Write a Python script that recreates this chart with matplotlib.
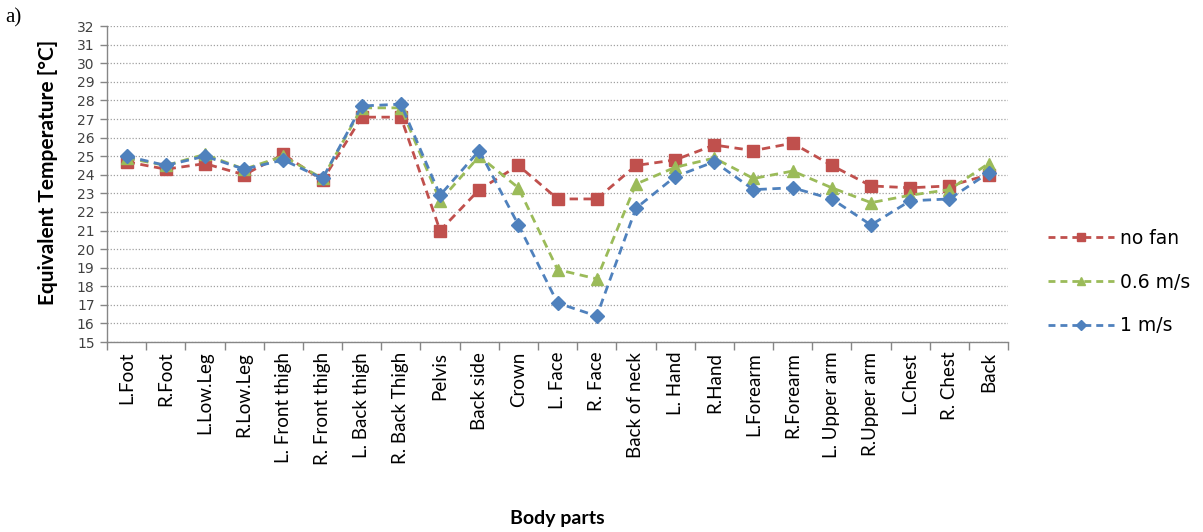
import numpy as np
import matplotlib.pyplot as plt
from matplotlib.lines import Line2D

# body parts along the x axis
parts = ['L.Foot', 'R.Foot', 'L.Low.Leg', 'R.Low.Leg', 'L. Front thigh',
         'R. Front thigh', 'L. Back thigh', 'R. Back Thigh', 'Pelvis',
         'Back side', 'Crown', 'L. Face', 'R. Face', 'Back of neck',
         'L. Hand', 'R.Hand', 'L.Forearm', 'R.Forearm', 'L. Upper arm',
         'R.Upper arm', 'L.Chest', 'R. Chest', 'Back']

# equivalent temperature [°C]
no_fan = [24.7, 24.3, 24.6, 24.0, 25.1, 23.7, 27.1, 27.1, 21.0, 23.2, 24.5,
          22.7, 22.7, 24.5, 24.8, 25.6, 25.3, 25.7, 24.5, 23.4, 23.3, 23.4, 24.0]
fan_06 = [24.9, 24.5, 25.1, 24.3, 25.0, 23.8, 27.6, 27.6, 22.6, 25.0, 23.3,
          18.9, 18.4, 23.5, 24.4, 24.9, 23.8, 24.2, 23.3, 22.5, 22.9, 23.2, 24.6]
fan_1 = [25.0, 24.5, 25.0, 24.3, 24.8, 23.8, 27.7, 27.8, 22.9, 25.3, 21.3,
         17.1, 16.4, 22.2, 23.9, 24.7, 23.2, 23.3, 22.7, 21.3, 22.6, 22.7, 24.1]

series = [
    ('no fan', no_fan, '#C0504D', 's', 8.5),
    ('0.6 m/s', fan_06, '#9BBB59', '^', 9),
    ('1 m/s', fan_1, '#4F81BD', 'D', 7),
]

plt.rcParams['font.family'] = ['Lato', 'DejaVu Sans']

fig = plt.figure(figsize=(12.03, 5.32), dpi=100)
ax = fig.add_axes([0.089, 0.357, 0.749, 0.594])

x = np.arange(len(parts))
handles = []
for name, vals, col, mk, ms in series:
    ax.plot(x, vals, linestyle=(0, (3, 2)), lw=2, color=col, marker=mk,
            markersize=ms)
    handles.append(Line2D([], [], linestyle=(0, (2.5, 1.8)), lw=2, color=col,
                          marker=mk, markersize=ms * 0.7, label=name))

ax.set_xlim(-0.5, len(parts) - 0.5)
ax.set_ylim(15, 32)
ax.set_yticks(np.arange(15, 33, 1))
ax.yaxis.grid(True, linestyle=(0, (1, 1.5)), color='#A0A0A0', lw=0.9)
ax.set_axisbelow(True)

# category ticks at boundaries, labels centred
ax.set_xticks(np.arange(-0.5, len(parts), 1))
ax.set_xticklabels([])
ax.set_xticks(x, minor=True)
ax.set_xticklabels(parts, minor=True, rotation=90, fontsize=13.5, color='black')
ax.tick_params(axis='x', which='minor', length=0, pad=7)
ax.tick_params(axis='x', which='major', length=6, color='#868686', width=1)
ax.tick_params(axis='y', length=5, color='#868686', width=1, pad=4)
for lab in ax.get_yticklabels():
    lab.set_family('DejaVu Sans')
    lab.set_fontsize(10)
    lab.set_color('#404040')

for s in ['top', 'right']:
    ax.spines[s].set_visible(False)
for s in ['left', 'bottom']:
    ax.spines[s].set_color('#868686')
    ax.spines[s].set_linewidth(1)

fig.text(0.040, 0.676, 'Equivalent Temperature [°C]', fontsize=15,
         fontweight='bold', rotation=90, ha='center', va='center')
fig.text(0.463, 0.026, 'Body parts', fontsize=14, fontweight='bold',
         ha='center', va='center')
fig.text(0.004, 0.966, 'a)', fontsize=15, family='Liberation Serif',
         va='center')

leg = ax.legend(handles=handles, loc='center left', bbox_to_anchor=(1.026, 0.19),
                frameon=False, prop={'family': 'DejaVu Sans', 'size': 13.5},
                labelspacing=1.32, handlelength=3.5, handletextpad=0.3)

plt.savefig('out.png', dpi=100)
plt.close()
